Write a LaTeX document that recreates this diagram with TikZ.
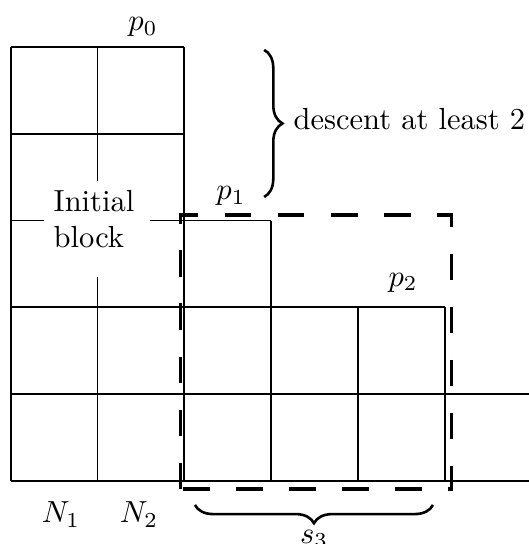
\documentclass[tikz,border=0pt]{standalone}
\usetikzlibrary{decorations.pathreplacing}
\begin{document}
\begin{tikzpicture}[x=1cm,y=1cm,
  grid/.style={line width=0.6pt},
  dashbox/.style={line width=1.2pt, dash pattern=on 8.7pt off 8.7pt},
  bracestyle/.style={line width=0.85pt, decorate, decoration={brace, amplitude=6pt}},
  lbl/.style={inner sep=0pt, anchor=base}]
\useasboundingbox (-0.123,-0.726) rectangle (5.971,5.541);
% grid
\draw[grid] (0,5) -- (2,5);
\draw[grid] (0,4) -- (2,4);
\draw[grid] (0,3) -- (3,3);
\draw[grid] (0,2) -- (5,2);
\draw[grid] (0,1) -- (5.971,1);
\draw[grid] (0,0) -- (5.971,0);
\draw[grid] (0,0) -- (0,5);
\draw[grid] (1,0) -- (1,5);
\draw[grid] (2,0) -- (2,5);
\draw[grid] (3,0) -- (3,3);
\draw[grid] (4,0) -- (4,2);
\draw[grid] (5,0) -- (5,2);
% initial block label
\fill[white] (0.384,2.35) rectangle (1.605,3.456);
\node[inner sep=0pt, align=left] (init) at (0.96,3.018) {Initial\\block};
% dashed box
\draw[dashbox] (1.958,-0.095) rectangle (5.08,3.065);
% labels
\node[lbl] (p0) at (1.524,5.19) {$p_0$};
\node[lbl] (p1) at (2.538,3.237) {$p_1$};
\node[lbl] (p2) at (4.52,2.246) {$p_2$};
\node[lbl] (n1) at (0.58,-0.484) {$N_1$};
\node[lbl] (n2) at (1.478,-0.484) {$N_2$};
% right brace
\coordinate (bt) at (2.92,4.966);
\coordinate (bb) at (2.92,3.272);
\draw[bracestyle] (bt) -- (bb);
\node[inner sep=0pt, anchor=base west] (desc) at (3.252,4.044) {descent at least 2};
% bottom brace
\coordinate (bl) at (2.123,-0.276);
\coordinate (br) at (4.865,-0.276);
\draw[bracestyle] (br) -- (bl);
\node[lbl] (s3) at (3.495,-0.715) {$s_3$};
\end{tikzpicture}
\end{document}
